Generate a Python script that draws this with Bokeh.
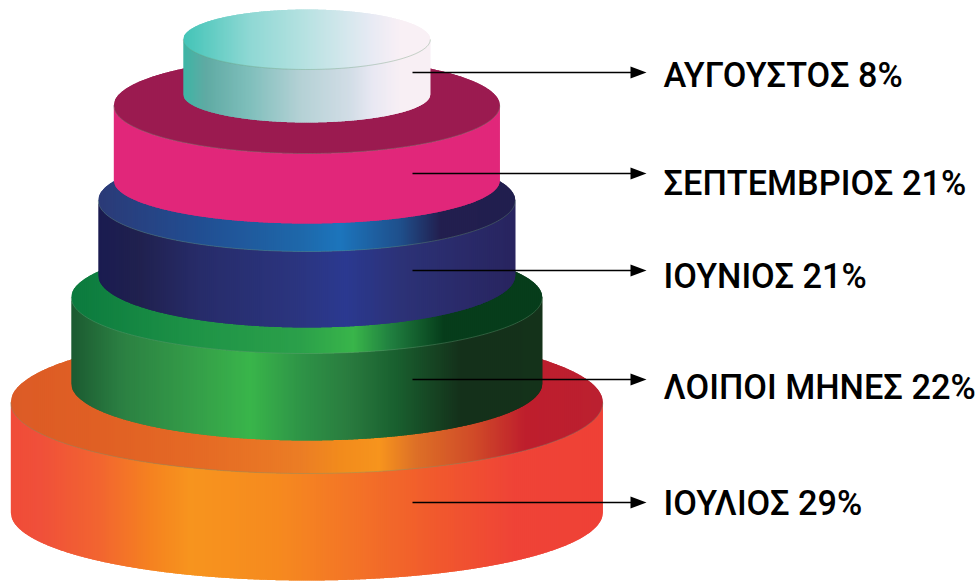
import numpy as np
from bokeh.plotting import figure
from bokeh.models import Range1d
from bokeh.core.properties import value
from bokeh.embed import file_html
from bokeh.resources import INLINE

# data
categories = ["ΑΥΓΟΥΣΤΟΣ", "ΣΕΠΤΕΜΒΡΙΟΣ", "ΙΟΥΝΙΟΣ", "ΛΟΙΠΟΙ ΜΗΝΕΣ", "ΙΟΥΛΙΟΣ"]
values = [8, 21, 21, 22, 29]

# layout of the tiers, page pixels, same order
CX = 306.3
half_widths = [123.5, 193, 208.5, 235.5, 296]
cap_y = [39, 105, 200, 297, 402]
cap_ry = [30, 48, 51, 56, 71]
side_h = [55, 75, 75, 86, 110]
bottom_ry = [28, 43, 52, 57, 68]
leader_y = [72, 173, 270, 379, 502]
label_y = [74, 182, 275, 386, 502]
side_stops = [
    [(183,"#3DB5A5"),(205,"#5FAAA3"),(250,"#80BFBC"),(300,"#B4D1D5"),(350,"#D2DDE6"),(372,"#E8E8F3"),(400,"#F8EFF4"),(430,"#F8EFF4")],
    [(113,"#E1277A"),(499,"#E1277A")],
    [(98,"#1A1B50"),(140,"#20214F"),(200,"#272C6A"),(300,"#2B3580"),(345,"#2B3990"),(400,"#2C3277"),(515,"#28245F")],
    [(71,"#1B5A31"),(120,"#2B7F42"),(200,"#35A049"),(250,"#39B54A"),(300,"#2E9447"),(350,"#297A3E"),(395,"#19602F"),(460,"#14301A"),(542,"#14321A")],
    [(10,"#F04C38"),(40,"#F0503A"),(99,"#F26530"),(150,"#F58220"),(190,"#F7941E"),(277,"#F68A1F"),(356,"#F37327"),(435,"#F1592D"),(514,"#EF4337"),(602,"#EF4136")],
]
cap_stops = [
    [(183,"#43C4B7"),(250,"#8FD8D4"),(300,"#B3E1E0"),(350,"#D8E8EE"),(372,"#E8EAF4"),(400,"#F9F0F5"),(430,"#F9F0F5")],
    [(113,"#9B1B50"),(499,"#9B1B50")],
    [(98,"#2B3A77"),(200,"#214E92"),(300,"#1E68AA"),(340,"#1C75BC"),(400,"#1F4F8B"),(440,"#221F4F"),(515,"#211E4E")],
    [(71,"#0B7A3E"),(200,"#1F9447"),(300,"#2BA04A"),(353,"#39B54A"),(390,"#208040"),(443,"#063D1B"),(542,"#063D1B")],
    [(10,"#DC5B26"),(100,"#E06024"),(200,"#E56A25"),(300,"#EB7D25"),(340,"#F28B1C"),(379,"#F7941D"),(415,"#DD7027"),(474,"#D04A28"),(525,"#BE1E2D"),(602,"#BB2030")],
]
RIM = "#6f9a7a"

def hex_rgb(h):
    return [int(h[i:i+2], 16) for i in (1, 3, 5)]

def colour_at(stops, x):
    xs = [s[0] for s in stops]
    rgb = np.array([hex_rgb(s[1]) for s in stops], float)
    return ["#%02x%02x%02x" % tuple(int(round(np.interp(v, xs, rgb[:, k]))) for k in range(3)) for v in x]

p = figure(width=978, height=581, x_range=Range1d(0, 978), y_range=Range1d(581, 0),
           output_backend="svg", toolbar_location=None, min_border=0)
p.axis.visible = False
p.grid.visible = False
p.outline_line_color = None
p.background_fill_color = None
p.border_fill_color = None

def arc(x, a, ry):
    u = (np.asarray(x, float) - CX) / a
    return ry * np.sqrt(np.clip(1 - u ** 2, 0, 1))

for i in reversed(range(len(categories))):
    a = half_widths[i]
    cy, ry, h, br = cap_y[i], cap_ry[i], side_h[i], bottom_ry[i]
    left, right = CX - a, CX + a
    # strip edges on whole pixels, each strip overlaps the next one, which paints over it
    inner = np.arange(np.ceil(left) + 1, np.floor(right), 2.0)
    edges = np.concatenate([[left], inner, [right]])
    xs_side, ys_side, xs_cap, ys_cap, mids = [], [], [], [], []
    for j in range(len(edges) - 1):
        l, r0 = edges[j], edges[j + 1]
        r = edges[min(j + 2, len(edges) - 1)]      # overlap
        top = np.linspace(l, r, 7)                 # keeps the ends of the ellipse smooth
        d = arc(top, a, ry)
        db = arc(top, a, br)
        xs_side.append(list(top) + list(top[::-1]))
        ys_side.append(list(cy + d - 4 * (d > 4)) + list((cy + h + db)[::-1]))
        xs_cap.append(list(top) + list(top[::-1]))
        ys_cap.append(list(cy - d) + list((cy + d)[::-1]))
        mids.append((l + r0) / 2)
    p.patches(xs_side, ys_side, fill_color=colour_at(side_stops[i], mids), line_color=None, fill_alpha=1.0)
    p.patches(xs_cap, ys_cap, fill_color=colour_at(cap_stops[i], mids), line_color=None, fill_alpha=1.0)
    rim_x = np.concatenate([CX + a * np.sin(np.linspace(-np.pi / 2, np.pi / 2, 160))])
    p.line(rim_x, cy + arc(rim_x, a, ry), line_color=RIM, line_width=0.7, line_alpha=0.55)

START_X, LINE_END, HEAD_END = 412, 631, 646
p.segment([START_X] * 5, leader_y, [LINE_END] * 5, leader_y, line_color="black", line_width=1.3, line_alpha=1.0)
p.patches([[LINE_END - 1, HEAD_END, LINE_END - 1]] * 5,
          [[y - 6, y, y + 6] for y in leader_y], fill_color="black", line_color=None, fill_alpha=1.0)

p.text([663] * 5, label_y, text=[f"{c} {v}%" for c, v in zip(categories, values)],
       text_font=value("Roboto Medium"), text_font_size="34.3px", text_color="black",
       text_align="left", text_baseline="middle")

open("out.html", "w").write(file_html(p, INLINE))
